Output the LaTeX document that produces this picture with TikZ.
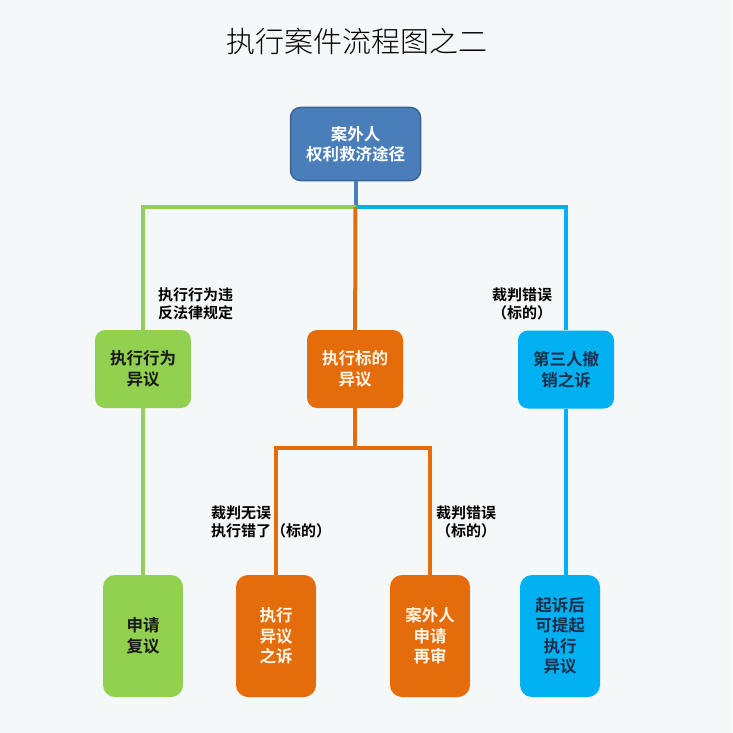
\documentclass[tikz,border=0pt]{standalone}
\usepackage{fontspec}
\setmainfont{Noto Sans CJK SC}[BoldFont={Noto Sans CJK SC Bold}]
\newfontfamily\titlefont{Noto Sans CJK SC Light}
\definecolor{bg}{HTML}{F4F8F8}
\definecolor{rootblue}{HTML}{4A7EBB}
\definecolor{rootedge}{HTML}{3A6494}
\definecolor{grn}{HTML}{92D050}
\definecolor{org}{HTML}{E46C0A}
\definecolor{sky}{HTML}{00B0F0}
\definecolor{navy}{HTML}{1B2E4A}
\definecolor{cream}{HTML}{FFF6EA}

\begin{document}
\begin{tikzpicture}[x=1pt, y=-1pt,
    box/.style={rounded corners=10pt, align=center, inner sep=0pt,
        font=\fontsize{16.5}{20.5}\selectfont\bfseries},
    low/.style={box, rounded corners=12pt, minimum width=80pt, minimum height=122pt},
    mid/.style={box, minimum width=96pt, minimum height=78pt},
    link/.style={line width=4pt},
    tag/.style={anchor=west, align=left, inner sep=0pt,
        font=\fontsize{15}{17.5}\selectfont\bfseries}]
\fill[bg] (0,0) rectangle (732,733);
\useasboundingbox (0,0) rectangle (732,733);
\node[font=\titlefont\fontsize{29}{32}\selectfont] (title) at (357,41) {执行案件流程图之二};

\node[box, fill=rootblue, draw=rootedge, line width=1.5pt, text=white,
    minimum width=130pt, minimum height=73pt] (root) at (355.5,144) {案外人\\权利救济途径};

\node[mid, fill=grn, text=black!90] (act) at (143,369) {执行行为\\异议};
\node[mid, fill=org, text=cream] (subj) at (355,369) {执行标的\\异议};
\node[mid, fill=sky, text=navy] (third) at (566,369.5) {第三人撤\\销之诉};

\node[low, fill=grn, text=black!90] (review) at (143,636) {申请\\复议};
\node[low, fill=org, text=cream] (suit) at (276,636) {执行\\异议\\之诉};
\node[low, fill=org, text=cream] (retrial) at (430,636) {案外人\\申请\\再审};
\node[low, fill=sky, text=navy] (later) at (560,636) {起诉后\\可提起\\执行\\异议};

\coordinate (hub) at (355.5,207);
\coordinate (split) at (355,448);
\draw[link, rootblue] (root) -- (hub);
\draw[link, grn] (hub) -| (act);
\draw[link, sky] (hub) -| (third);
\draw[link, org] (hub) -- (subj);
\draw[link, org] (subj) -- (split);
\draw[link, org] (split) -| (suit);
\draw[link, org] (split) -| (retrial);
\draw[link, grn] (act) -- (review);
\draw[link, sky] (third.south) -- (third.south |- later.north);

\node[tag] (l1) at (158,304) {执行行为违\\反法律规定};
\node[tag] (l2) at (492,304) {裁判错误\\（标的）};
\node[tag] (l3) at (211,522) {裁判无误\\执行错了（标的）};
\node[tag] (l4) at (436,522) {裁判错误\\（标的）};
\end{tikzpicture}
\end{document}
